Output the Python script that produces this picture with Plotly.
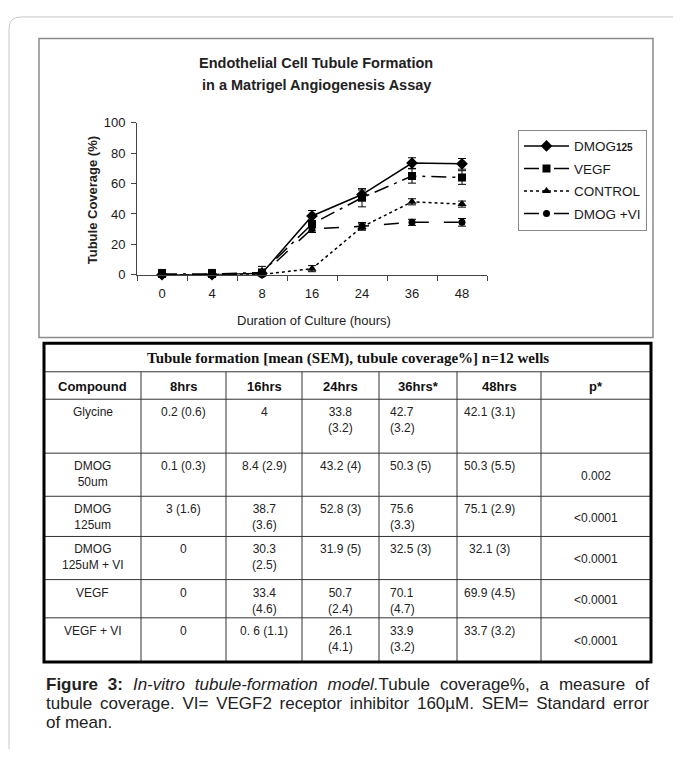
import plotly.graph_objects as go

W, H = 681, 757
OFF = 8  # default page body margin in the written HTML

# ---------------- chart data ----------------
hours = ["0", "4", "8", "16", "24", "36", "48"]

dmog125 = [0, 0, 1, 38.7, 52.8, 73.5, 73]
dmog125_err = [2, 2, 2.5, 3.6, 3, 3.5, 3.5]

vegf = [0.5, 0.5, 1.5, 33.4, 50.7, 65, 64]
vegf_err = [3, 3, 4, 4.6, 6, 4.7, 4.5]

control = [0, 0, 0.2, 4, 31.5, 48, 46.5]
control_err = [0.5, 0.5, 0.6, 2, 2, 2, 2]

dmog_vi = [0, 0, 0, 30.3, 31.9, 34.5, 34.5]
dmog_vi_err = [0.5, 0.5, 0.5, 2.5, 2.5, 2, 2.5]

series_names = ["DMOG<span style='font-size:10px'><b>125</b></span>", "VEGF", "CONTROL", "DMOG +VI"]

# ---------------- table data ----------------
table_title = "Tubule formation [mean (SEM), tubule coverage%] n=12 wells"
table_header = ["Compound", "8hrs", "16hrs", "24hrs", "36hrs*", "48hrs", "p*"]
compounds = ["Glycine", "DMOG<br>50um", "DMOG<br>125um", "DMOG<br>125uM + VI", "VEGF", "VEGF + VI"]
col_8 = ["0.2 (0.6)", "0.1 (0.3)", "3 (1.6)", "0", "0", "0"]
col_16 = ["4", "8.4 (2.9)", "38.7<br>(3.6)", "30.3<br>(2.5)", "33.4<br>(4.6)", "0. 6 (1.1)"]
col_24 = ["33.8<br>(3.2)", "43.2 (4)", "52.8 (3)", "31.9 (5)", "50.7<br>(2.4)", "26.1<br>(4.1)"]
col_36 = ["42.7<br>(3.2)", "50.3 (5)", "75.6<br>(3.3)", "32.5 (3)", "70.1<br>(4.7)", "33.9<br>(3.2)"]
col_48 = ["42.1 (3.1)", "50.3 (5.5)", "75.1 (2.9)", "32.1 (3)", "69.9 (4.5)", "33.7 (3.2)"]
col_p = ["", "0.002", "<0.0001", "<0.0001", "<0.0001", "<0.0001"]

caption_lines = [
    "<b>Figure 3:</b> <i>In-vitro tubule-formation model.</i>Tubule coverage%, a measure of",
    "tubule coverage. VI= VEGF2 receptor inhibitor 160µM. SEM= Standard error",
    "of mean.",
]
caption_word_spacing = [5.2, 3.0, 0]


def px(x):
    return (x - OFF) / W


def py(y):
    return 1 - (y - OFF) / H


fig = go.Figure()

styles = [
    dict(dash="solid", symbol="diamond", size=9),
    dict(dash="longdashdot", symbol="square", size=8),
    dict(dash="dot", symbol="triangle-up", size=8),
    dict(dash="longdash", symbol="circle", size=7),
]
values = [dmog125, vegf, control, dmog_vi]
errors = [dmog125_err, vegf_err, control_err, dmog_vi_err]

for i, (name, vals, errs, st) in enumerate(zip(series_names, values, errors, styles)):
    fig.add_trace(go.Scatter(
        x=hours, y=vals, name=name, mode="lines+markers",
        line=dict(color="black", width=1.5, dash=st["dash"]),
        marker=dict(color="black", symbol=st["symbol"], size=st["size"]),
        error_y=dict(type="data", array=errs, visible=True, color="black", thickness=1, width=4),
        cliponaxis=False, legendgroup=f"g{i}",
    ))

font_main = "Arial, Liberation Sans, sans-serif"

fig.update_layout(
    width=W, height=H, margin=dict(l=0, r=0, t=0, b=0),
    paper_bgcolor="white", plot_bgcolor="white",
    font=dict(family=font_main, color="#1a1a1a", size=13),
    showlegend=True,
    legend=dict(x=px(518), y=py(125), xanchor="left", yanchor="top",
                bordercolor="#888888", borderwidth=1, bgcolor="white",
                font=dict(size=13.5, family=font_main, color="#1a1a1a"),
                tracegroupgap=2, itemwidth=45),
    xaxis=dict(type="category", domain=[px(137), px(487)], range=[-0.5, 6.5],
               showline=True, linecolor="#444", linewidth=1,
               ticks="outside", tickson="boundaries", ticklen=5, tickcolor="#444",
               ticklabelstandoff=7,
               showgrid=False, zeroline=False, tickfont=dict(size=13)),
    yaxis=dict(domain=[py(273), py(118)], range=[0, 100], dtick=20,
               showline=True, linecolor="#444", linewidth=1,
               ticks="outside", ticklen=5, tickcolor="#444",
               ticklabelstandoff=3,
               showgrid=False, zeroline=False, tickfont=dict(size=13)),
)

shapes = []
annotations = []

# outer page border with rounded corner
path = (f"M {px(9)},{py(757)} L {px(9)},{py(22)} "
        f"Q {px(9)},{py(10)} {px(21)},{py(10)} L {px(681)},{py(10)}")
shapes.append(dict(type="path", path=path, xref="paper", yref="paper",
                   line=dict(color="#c8c8c8", width=1)))

# chart box
shapes.append(dict(type="rect", xref="paper", yref="paper",
                   x0=px(39), x1=px(653), y0=py(337), y1=py(32),
                   line=dict(color="#8a8a8a", width=1.5)))

# chart title
annotations.append(dict(text="<b>Endothelial Cell Tubule Formation</b>", x=px(316), y=py(57),
                        xref="paper", yref="paper", showarrow=False, xanchor="center", yanchor="middle",
                        font=dict(size=14.5, family=font_main, color="#222")))
annotations.append(dict(text="<b>in a Matrigel Angiogenesis Assay</b>", x=px(316), y=py(79),
                        xref="paper", yref="paper", showarrow=False, xanchor="center", yanchor="middle",
                        font=dict(size=14.5, family=font_main, color="#222")))
# axis titles
annotations.append(dict(text="<b>Tubule Coverage (%)</b>", x=px(92), y=py(197), textangle=-90,
                        xref="paper", yref="paper", showarrow=False, xanchor="center", yanchor="middle",
                        font=dict(size=13, family=font_main, color="#222")))
annotations.append(dict(text="Duration of Culture (hours)", x=px(314), y=py(320),
                        xref="paper", yref="paper", showarrow=False, xanchor="center", yanchor="middle",
                        font=dict(size=13, family=font_main, color="#222")))

# ---------------- table ----------------
T_L, T_R, T_T, T_B = 44, 651, 343, 668
col_x = [44, 141, 226, 302, 379, 457, 541, 651]
row_y = [343, 372, 400, 455, 499, 540, 584, 623, 668]

for y in row_y[1:-1]:
    shapes.append(dict(type="line", xref="paper", yref="paper",
                       x0=px(T_L), x1=px(T_R), y0=py(y), y1=py(y),
                       line=dict(color="#333", width=1)))
for x in col_x[1:-1]:
    shapes.append(dict(type="line", xref="paper", yref="paper",
                       x0=px(x), x1=px(x), y0=py(row_y[1]), y1=py(T_B),
                       line=dict(color="#333", width=1)))
shapes.append(dict(type="rect", xref="paper", yref="paper",
                   x0=px(T_L), x1=px(T_R), y0=py(T_B), y1=py(T_T),
                   line=dict(color="black", width=3)))

annotations.append(dict(text=f"<b>{table_title}</b>", x=px((T_L + T_R) / 2), y=py(358),
                        xref="paper", yref="paper", showarrow=False, xanchor="center", yanchor="middle",
                        font=dict(size=15, family="Liberation Serif, Times New Roman, serif", color="#111")))
for j, h in enumerate(table_header):
    cx = (col_x[j] + col_x[j + 1]) / 2
    annotations.append(dict(text=f"<b>{h}</b>", x=px(cx), y=py(387),
                            xref="paper", yref="paper", showarrow=False, xanchor="center", yanchor="middle",
                            font=dict(size=13, family=font_main, color="#111")))

columns = [compounds, col_8, col_16, col_24, col_36, col_48, col_p]
for j, col in enumerate(columns):
    for i, txt in enumerate(col):
        if not txt:
            continue
        top = row_y[i + 2]
        if j == 4:
            x, xa, align = col_x[j] + 9, "left", "left"
        elif j == 5:
            x, xa, align = (col_x[j] + col_x[j + 1]) / 2 - 9, "center", "center"
        else:
            x, xa, align = (col_x[j] + col_x[j + 1]) / 2, "center", "center"
        ytop = top + 4
        if j == 6:
            ytop = top + (row_y[i + 3] - top) / 2 - 8
        annotations.append(dict(text=txt.replace("<", "&lt;") if txt.startswith("<") else txt,
                                x=px(x), y=py(ytop),
                                xref="paper", yref="paper", showarrow=False, xanchor=xa, yanchor="top",
                                align=align,
                                font=dict(size=12, family="Liberation Sans, Arial, sans-serif", color="#222")))

# caption
for k, line in enumerate(caption_lines):
    ws = caption_word_spacing[k]
    txt = f"<span style='word-spacing:{ws}px'>{line}</span>" if ws else line
    annotations.append(dict(text=txt, x=px(44), y=py(691 + k * 19.5),
                            xref="paper", yref="paper", showarrow=False, xanchor="left", yanchor="middle",
                            font=dict(size=17, family=font_main, color="#222")))

fig.update_layout(shapes=shapes, annotations=annotations)
fig.write_html("out.html")
